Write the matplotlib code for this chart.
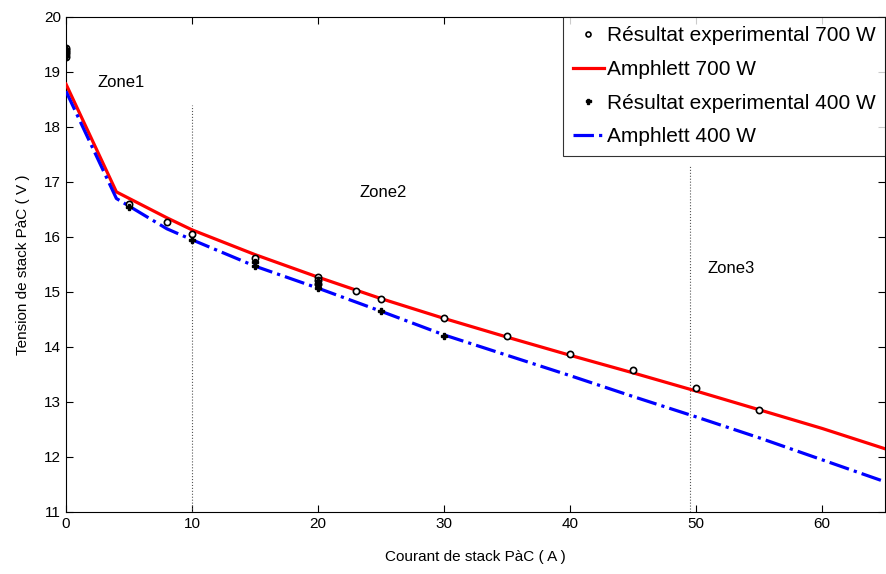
#!/usr/bin/env python3
"""Courbe de polarisation du stack PàC : expérimental vs modèle Amphlett (700 W / 400 W)."""
import matplotlib
matplotlib.use("Agg")
import matplotlib.pyplot as plt

matplotlib.rc("font", family=["Liberation Sans", "DejaVu Sans"])

# ── données ──────────────────────────────────────────────────────────────────
i_model = [0, 4, 8, 10, 15, 20, 25, 30, 35, 40, 45, 50, 55, 60, 65]
v_amph_700 = [18.78, 16.82, 16.35, 16.13, 15.68, 15.27, 14.88, 14.52, 14.18,
              13.85, 13.53, 13.20, 12.86, 12.52, 12.15]
v_amph_400 = [18.65, 16.70, 16.15, 15.95, 15.47, 15.07, 14.65, 14.22, 13.85,
              13.48, 13.10, 12.73, 12.35, 11.95, 11.55]

i_exp_700 = [0, 0, 0, 0, 0, 5, 8, 10, 15, 20, 20, 20, 23, 25, 30, 35, 40, 45, 50, 55]
v_exp_700 = [19.28, 19.32, 19.36, 19.40, 19.44, 16.60, 16.27, 16.05, 15.62,
             15.28, 15.22, 15.15, 15.02, 14.87, 14.52, 14.20, 13.88, 13.58, 13.25, 12.85]

i_exp_400 = [0, 0, 0, 5, 10, 15, 15, 20, 20, 20, 25, 30]
v_exp_400 = [19.30, 19.36, 19.42, 16.55, 15.95, 15.55, 15.48, 15.20, 15.14,
             15.08, 14.65, 14.20]

zone_bounds = [(10, 18.4), (49.5, 17.3)]
zone_labels = [("Zone1", 2.5, 18.8), ("Zone2", 23.3, 16.8), ("Zone3", 50.9, 15.42)]

# ── figure ───────────────────────────────────────────────────────────────────
fig = plt.figure(figsize=(8.86, 5.74), dpi=100)
ax = fig.add_axes([66 / 886, 1 - 512 / 574, (885 - 66) / 886, (512 - 17) / 574])

for x, ytop in zone_bounds:
    ax.plot([x, x], [11, ytop], color="#555555", linestyle=":", linewidth=0.8)

ax.plot(i_exp_700, v_exp_700, linestyle="none", marker="o", markersize=4.5,
        markerfacecolor="white", markeredgecolor="black", markeredgewidth=1.2,
        label="Résultat experimental 700 W", zorder=4)
ax.plot(i_model, v_amph_700, color="red", linewidth=2.3,
        label="Amphlett 700 W", zorder=3)
ax.plot(i_exp_400, v_exp_400, linestyle="none", marker="P", markersize=4.5,
        color="black", label="Résultat experimental 400 W", zorder=4)
ax.plot(i_model, v_amph_400, color="blue", linewidth=2.3, linestyle="-.",
        label="Amphlett 400 W", zorder=3)

for txt, x, y in zone_labels:
    ax.text(x, y, txt, fontsize=12, va="center", ha="left")

ax.set_xlim(0, 65)
ax.set_ylim(11, 20)
ax.set_xticks(range(0, 61, 10))
ax.set_yticks(range(11, 21))
ax.tick_params(direction="in", top=True, right=True, labelsize=11, length=5)
ax.set_xlabel("Courant de stack PàC ( A )", fontsize=11, labelpad=14)
ax.set_ylabel("Tension de stack PàC ( V )", fontsize=11, labelpad=10)

leg = ax.legend(loc="upper right", fontsize=15, frameon=True, fancybox=False,
                edgecolor="black", borderaxespad=0, handlelength=1.5,
                handletextpad=0.15, borderpad=0.45, labelspacing=0.7,
                markerscale=0.8)
leg.get_frame().set_linewidth(0.8)

fig.savefig("out.png", dpi=100)
